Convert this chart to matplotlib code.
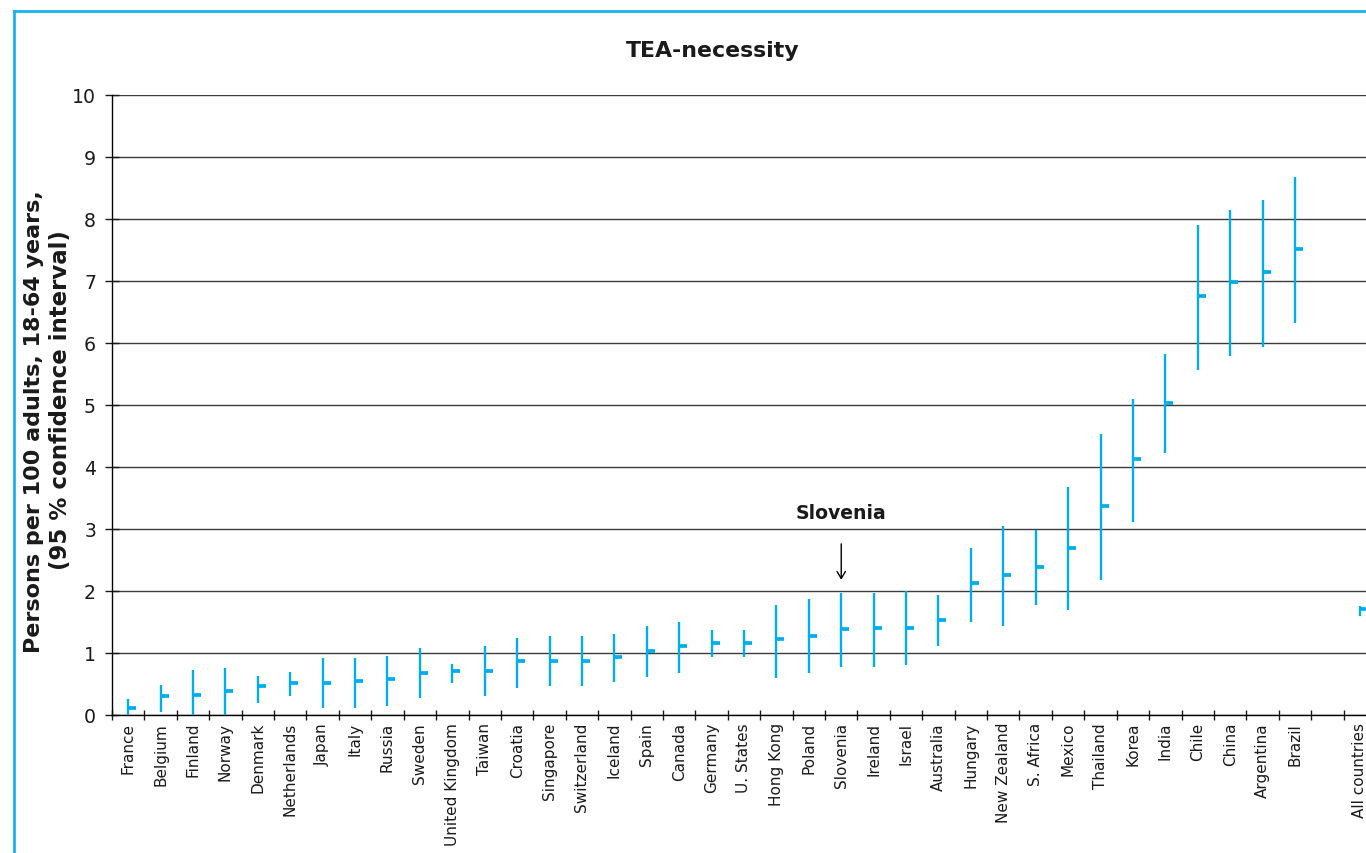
import numpy as np
import matplotlib
matplotlib.use("Agg")
import matplotlib.pyplot as plt
from matplotlib.lines import Line2D
from matplotlib.markers import TICKRIGHT

plt.rcParams['font.family'] = ['DejaVu Sans']

countries = ["France", "Belgium", "Finland", "Norway", "Denmark", "Netherlands",
             "Japan", "Italy", "Russia", "Sweden", "United Kingdom", "Taiwan",
             "Croatia", "Singapore", "Switzerland", "Iceland", "Spain", "Canada",
             "Germany", "U. States", "Hong Kong", "Poland", "Slovenia", "Ireland",
             "Israel", "Australia", "Hungary", "New Zealand", "S. Africa", "Mexico",
             "Thailand", "Korea", "India", "Chile", "China", "Argentina", "Brazil",
             "All countries"]

mean = [0.11, 0.30, 0.33, 0.39, 0.46, 0.52, 0.52, 0.55, 0.585, 0.68, 0.71, 0.71,
        0.87, 0.87, 0.87, 0.93, 1.03, 1.12, 1.16, 1.16, 1.22, 1.28, 1.38, 1.41,
        1.41, 1.54, 2.13, 2.26, 2.39, 2.70, 3.37, 4.13, 5.04, 6.76, 6.98, 7.14,
        7.52, 1.71]

lower = [0.0, 0.05, 0.0, 0.0, 0.20, 0.31, 0.11, 0.11, 0.145, 0.27, 0.52, 0.31,
         0.43, 0.46, 0.46, 0.53, 0.62, 0.68, 0.94, 0.94, 0.59, 0.68, 0.77, 0.77,
         0.81, 1.12, 1.50, 1.44, 1.78, 1.70, 2.17, 3.12, 4.23, 5.56, 5.79, 5.94,
         6.32, 1.60]

upper = [0.26, 0.48, 0.73, 0.76, 0.63, 0.70, 0.92, 0.92, 0.95, 1.08, 0.83, 1.11,
         1.24, 1.27, 1.27, 1.30, 1.43, 1.50, 1.37, 1.37, 1.78, 1.87, 1.97, 1.97,
         2.00, 1.94, 2.69, 3.05, 2.98, 3.68, 4.53, 5.10, 5.83, 7.91, 8.14, 8.30,
         8.67, 1.76]

y_ticks = list(range(0, 11))
highlight = "Slovenia"

BLUE = "#00AEEF"
TEXT = "#1a1a1a"

# country slots, with one empty slot before the overall figure
pos = list(range(len(countries) - 1)) + [len(countries)]
n_slots = len(countries) + 1

W, H = 1366, 854
fig = plt.figure(figsize=(W / 100, H / 100), dpi=100)
ax = fig.add_axes([112 / W, 138 / H, 1264 / W, 620 / H])

# confidence intervals and point estimates
ax.vlines(pos, lower, upper, color=BLUE, lw=1.7, zorder=3)
ax.plot(pos, mean, ls="none", marker=TICKRIGHT, ms=6, mew=2.7,
        color=BLUE, zorder=4)

ax.set_xlim(-0.5, n_slots - 0.5)
ax.set_ylim(0, 10)
ax.set_yticks(y_ticks)
ax.tick_params(axis="y", direction="inout", length=9.4, width=1,
               labelsize=13.6, pad=6.8, colors=TEXT)
ax.yaxis.grid(True, color="#3c3c3c", lw=1)
ax.set_axisbelow(True)

ax.set_xticks(pos)
ax.set_xticklabels(countries, rotation=90, ha="center", va="top",
                   fontsize=11, color=TEXT)
ax.set_xticks(np.arange(-0.5, n_slots, 1.0), minor=True)
ax.tick_params(axis="x", which="major", length=0, pad=5)
ax.tick_params(axis="x", which="minor", direction="inout", length=6.5,
               width=1, color=TEXT)

for side in ("top", "right"):
    ax.spines[side].set_visible(False)
for side in ("left", "bottom"):
    ax.spines[side].set_color("black")
    ax.spines[side].set_linewidth(1)

# arrow pointing at the highlighted country
hx = pos[countries.index(highlight)]
ax.annotate("", xy=(hx, 2.18), xytext=(hx, 2.76),
            arrowprops=dict(arrowstyle="->,head_length=0.5,head_width=0.3",
                            lw=1, color="black", shrinkA=0, shrinkB=0),
            annotation_clip=False)
ax.text(hx, 3.27, highlight, ha="center", va="center", fontsize=13.6,
        fontweight="bold", color=TEXT)

fig.text(712.5 / W, 1 - 57.3 / H, "TEA-necessity", ha="center",
         va="baseline", fontsize=15.8, fontweight="bold", color=TEXT)

fig.text(34 / W, 1 - 422 / H, "Persons per 100 adults, 18-64 years,",
         rotation=90, ha="center", va="center", fontsize=16,
         fontweight="bold", color=TEXT)
fig.text(61 / W, 1 - 400 / H, "(95 % confidence interval)",
         rotation=90, ha="center", va="center", fontsize=16.5,
         fontweight="bold", color=TEXT)

# frame line along the left and top edges
frame_c = "#17B3EE"
fig.add_artist(Line2D([14 / W, 14 / W], [0, 1 - 12 / H],
                      transform=fig.transFigure, color=frame_c, lw=2))
fig.add_artist(Line2D([14 / W, 1], [1 - 12 / H, 1 - 12 / H],
                      transform=fig.transFigure, color=frame_c, lw=2))

fig.savefig("out.png", dpi=100, facecolor="white")
